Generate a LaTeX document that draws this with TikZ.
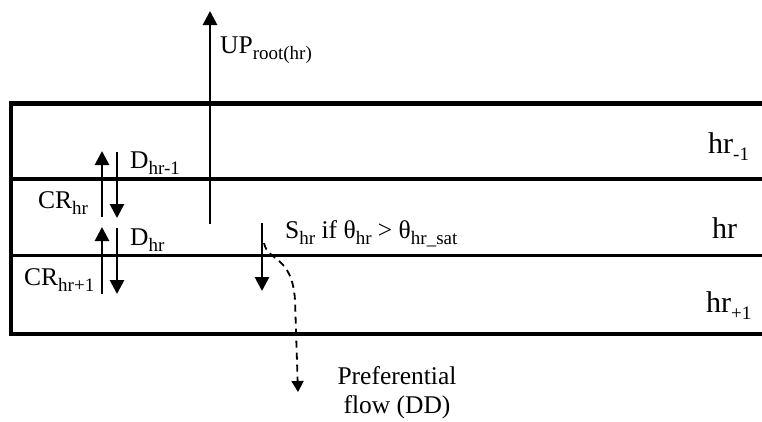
\documentclass[tikz,border=0pt]{standalone}
\usepackage{fontspec}
\setmainfont{Liberation Serif}
\usetikzlibrary{arrows.meta}
\newcommand{\sbs}[1]{\raisebox{-6pt}{\fontsize{19}{19}\selectfont #1}}
\newcommand{\sbl}[1]{\raisebox{-7pt}{\fontsize{19}{19}\selectfont #1}}
\tikzset{
  layer/.style={line width=3.8pt},
  flow/.style={line width=2.8pt,-{Triangle[width=14pt,length=14pt]}},
  dflow/.style={line width=1.8pt,dash pattern=on 7pt off 5pt,-{Triangle[width=12pt,length=11pt]}},
  lbl/.style={anchor=base west,inner sep=0pt,font=\fontsize{25.5}{30}\selectfont},
  rlbl/.style={anchor=base west,inner sep=0pt,font=\fontsize{30}{34}\selectfont},
}
\begin{document}
\begin{tikzpicture}[x=1pt,y=-1pt]
\useasboundingbox (0,0) rectangle (762,421);
% layers
\draw[layer,line width=4.3pt] (762,103.5) -- (11,103.5) -- (11,334) -- (762,334);
\draw[layer] (11,179) -- (762,179);
\draw[layer] (11,255.5) -- (762,255.5);
% root uptake
\coordinate (r0) at (210,224);
\coordinate (r1) at (210,11);
\draw[flow] (r0) -- (r1);
\node[lbl] (up) at (220,53) {UP\sbs{root(hr)}};
% capillary rise and drainage, upper pair
\coordinate (c1a) at (102,217); \coordinate (c1b) at (102,151);
\coordinate (d1a) at (117,152); \coordinate (d1b) at (117,218);
\draw[flow] (c1a) -- (c1b);
\draw[flow] (d1a) -- (d1b);
\node[lbl] (dhr1) at (130,168) {D\sbs{hr-1}};
\node[lbl] (crhr) at (38,208) {CR\sbs{hr}};
% lower pair
\coordinate (c2a) at (102,294); \coordinate (c2b) at (102,227);
\coordinate (d2a) at (117,228); \coordinate (d2b) at (117,294);
\draw[flow] (c2a) -- (c2b);
\draw[flow] (d2a) -- (d2b);
\node[lbl] (dhr) at (130,245) {D\sbs{hr}};
\node[lbl] (crhr1) at (24,285) {CR\sbs{hr+1}};
% saturation excess
\coordinate (s0) at (262,223);
\coordinate (s1) at (262,291);
\draw[flow] (s0) -- (s1);
\node[lbl] (shr) at (285,238) {S\sbs{hr} if θ\sbs{hr} > θ\sbs{hr\_sat}};
% preferential flow
\coordinate (p0) at (264,243);
\coordinate (p1) at (298,392);
\draw[dflow] (p0) .. controls (268,262) and (292,255) .. (295,300) -- (p1);
\node[align=center,inner sep=0pt,font=\fontsize{25.5}{29}\selectfont,anchor=north] (pf) at (397,366) {Preferential\\flow (DD)};
% layer labels
\node[rlbl] (l1) at (708,153) {hr\sbl{-1}};
\node[rlbl] (l2) at (712,238) {hr};
\node[rlbl] (l3) at (706,312) {hr\sbl{+1}};
\end{tikzpicture}
\end{document}
